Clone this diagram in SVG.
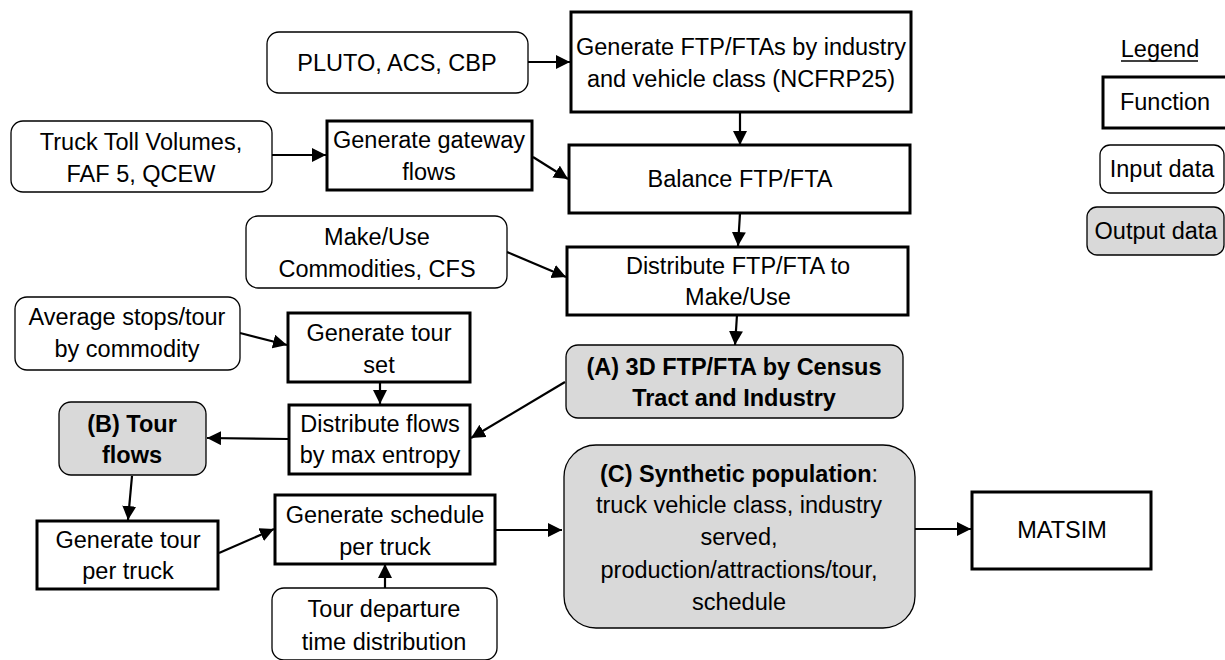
<svg xmlns="http://www.w3.org/2000/svg" width="1225" height="660" viewBox="0 0 1225 660">
<style>
text{font-family:"Liberation Sans",Arial,sans-serif;font-size:23.5px;fill:#000;text-anchor:middle}
.b{font-weight:bold}
.fn{fill:#fff;stroke:#000;stroke-width:3}
.in{fill:#fff;stroke:#000;stroke-width:1.3}
.out{fill:#d9d9d9;stroke:#000;stroke-width:1.3}
.c{fill:none;stroke:#000;stroke-width:2.2;marker-end:url(#ah)}
</style>
<defs>
<marker id="ah" markerUnits="userSpaceOnUse" markerWidth="15" markerHeight="15" refX="14" refY="7" orient="auto">
<path d="M0,0 L14,7 L0,14 z" fill="#000"/>
</marker>
</defs>
<rect width="1225" height="660" fill="#fff"/>

<g id="connectors">
<line class="c" x1="528" y1="62" x2="570" y2="62"/>
<line class="c" x1="740" y1="112" x2="740" y2="145"/>
<line class="c" x1="272" y1="155" x2="326" y2="155"/>
<line class="c" x1="533" y1="157" x2="568" y2="179"/>
<line class="c" x1="740" y1="213" x2="738" y2="246"/>
<line class="c" x1="507" y1="252" x2="566" y2="277"/>
<line class="c" x1="737" y1="315" x2="735" y2="345"/>
<line class="c" x1="240" y1="333" x2="287" y2="345"/>
<line class="c" x1="380" y1="382" x2="380" y2="404"/>
<line class="c" x1="565" y1="382" x2="471" y2="438"/>
<line class="c" x1="289" y1="439" x2="207" y2="438"/>
<line class="c" x1="132" y1="476" x2="128" y2="520"/>
<line class="c" x1="219" y1="553" x2="274" y2="529"/>
<line class="c" x1="385" y1="588" x2="385" y2="564"/>
<line class="c" x1="495" y1="530" x2="562" y2="530"/>
<line class="c" x1="908" y1="529" x2="971" y2="529"/>
</g>

<g id="pluto">
<rect class="in" x="267" y="32" width="261" height="61" rx="12"/>
<text x="397" y="71">PLUTO, ACS, CBP</text>
</g>
<g id="gen-ftp">
<rect class="fn" x="571" y="12" width="340" height="100"/>
<text x="741" y="55">Generate FTP/FTAs by industry</text>
<text x="741" y="87">and vehicle class (NCFRP25)</text>
</g>
<g id="truck-toll">
<rect class="in" x="11" y="121" width="261" height="71" rx="12"/>
<text x="141" y="150">Truck Toll Volumes,</text>
<text x="141" y="182">FAF 5, QCEW</text>
</g>
<g id="gen-gateway">
<rect class="fn" x="327" y="121" width="205" height="69"/>
<text x="429" y="148">Generate gateway</text>
<text x="429" y="180">flows</text>
</g>
<g id="balance">
<rect class="fn" x="569" y="145" width="341" height="68"/>
<text x="740" y="187">Balance FTP/FTA</text>
</g>
<g id="make-use">
<rect class="in" x="246" y="216" width="261" height="72" rx="12"/>
<text x="377" y="245">Make/Use</text>
<text x="377" y="277">Commodities, CFS</text>
</g>
<g id="distribute-ftp">
<rect class="fn" x="567" y="247" width="341" height="68"/>
<text x="738" y="274">Distribute FTP/FTA to</text>
<text x="738" y="305">Make/Use</text>
</g>
<g id="avg-stops">
<rect class="in" x="15" y="297" width="225" height="73" rx="12"/>
<text x="127" y="325">Average stops/tour</text>
<text x="127" y="357">by commodity</text>
</g>
<g id="gen-tour-set">
<rect class="fn" x="288" y="313" width="182" height="69"/>
<text x="379" y="341">Generate tour</text>
<text x="379" y="373">set</text>
</g>
<g id="a-3d">
<rect class="out" x="566" y="345" width="337" height="73" rx="12"/>
<text class="b" x="734" y="375">(A) 3D FTP/FTA by Census</text>
<text class="b" x="734" y="406">Tract and Industry</text>
</g>
<g id="b-tour">
<rect class="out" x="59" y="402" width="147" height="73" rx="12"/>
<text class="b" x="132" y="432">(B) Tour</text>
<text class="b" x="132" y="463">flows</text>
</g>
<g id="distribute-flows">
<rect class="fn" x="289" y="405" width="181" height="69"/>
<text x="380" y="432">Distribute flows</text>
<text x="380" y="463">by max entropy</text>
</g>
<g id="gen-tour-truck">
<rect class="fn" x="37" y="521" width="181" height="68"/>
<text x="128" y="548">Generate tour</text>
<text x="128" y="579">per truck</text>
</g>
<g id="gen-schedule">
<rect class="fn" x="275" y="495" width="220" height="69"/>
<text x="385" y="523">Generate schedule</text>
<text x="385" y="555">per truck</text>
</g>
<g id="tour-departure">
<rect class="in" x="272" y="588" width="225" height="72" rx="12"/>
<text x="384" y="617">Tour departure</text>
<text x="384" y="650">time distribution</text>
</g>
<g id="c-synthetic">
<rect class="out" x="564" y="445" width="351" height="183" rx="32"/>
<text x="739" y="482"><tspan class="b">(C) Synthetic population</tspan>:</text>
<text x="739" y="513">truck vehicle class, industry</text>
<text x="739" y="545">served,</text>
<text x="739" y="578">production/attractions/tour,</text>
<text x="739" y="610">schedule</text>
</g>
<g id="matsim">
<rect class="fn" x="972" y="492" width="179" height="77"/>
<text x="1062" y="538">MATSIM</text>
</g>

<g id="legend">
<text x="1160" y="57">Legend</text>
<line x1="1121" y1="61" x2="1198" y2="61" stroke="#000" stroke-width="1.5"/>
<rect class="fn" x="1103" y="77" width="130" height="51"/>
<text x="1165" y="110">Function</text>
<rect class="in" x="1100" y="145" width="124" height="48" rx="10"/>
<text x="1162" y="177">Input data</text>
<rect class="out" x="1087" y="207" width="137" height="48" rx="10"/>
<text x="1156" y="239">Output data</text>
</g>
</svg>
